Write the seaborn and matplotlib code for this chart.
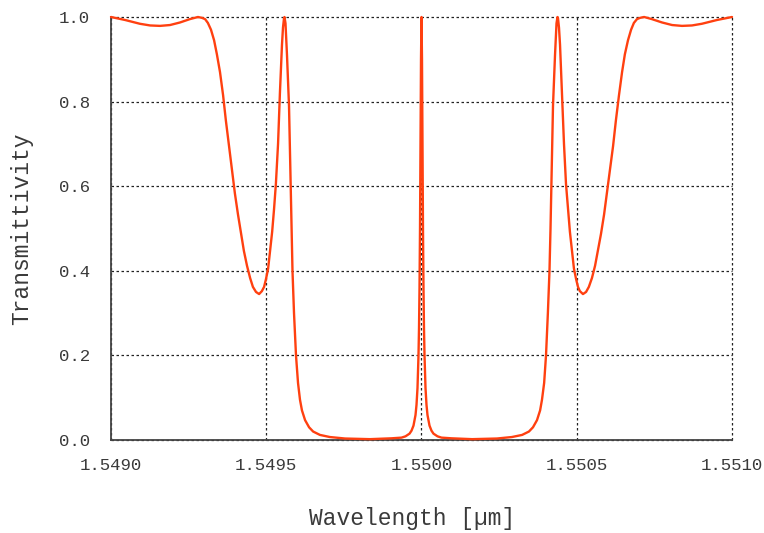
import matplotlib
matplotlib.use("Agg")
import matplotlib.pyplot as plt
import seaborn as sns
import pandas as pd
from matplotlib.ticker import MultipleLocator, FormatStrFormatter

# Data (wavelength in µm, transmittivity 0..1)
wavelength_um = [
    # left pass band and left stop-band edge
    1.549000, 1.549045, 1.549093, 1.549126, 1.549158, 1.549190, 1.549222, 1.549254,
    1.549280, 1.549293, 1.549303, 1.549312, 1.549322, 1.549332, 1.549341, 1.549351,
    1.549361, 1.549370, 1.549380, 1.549390, 1.549399, 1.549409, 1.549419, 1.549428,
    1.549438, 1.549448, 1.549457, 1.549467, 1.549477, 1.549486, 1.549493, 1.549499,
    1.549506, 1.549512, 1.549519, 1.549525, 1.549531, 1.549538, 1.549544, 1.5495507,
    1.5495539, 1.5495572, 1.5495588, 1.5495620, 1.5495668, 1.5495733, 1.5495781,
    1.5495813, 1.5495845, 1.5495894, 1.5495958, 1.5496023, 1.5496087, 1.549615,
    1.549625, 1.549638, 1.549651, 1.549673, 1.549705, 1.549754, 1.549834,
    # central resonance
    1.5499034, 1.5499356, 1.5499485, 1.5499614, 1.5499678, 1.5499742, 1.5499807,
    1.5499839, 1.5499871, 1.5499903, 1.5499920, 1.5499936, 1.5499952, 1.5499968,
    1.5499984, 1.5500000, 1.5500016, 1.5500032, 1.5500048, 1.5500064, 1.5500080,
    1.5500097, 1.5500129, 1.5500161, 1.5500193, 1.5500258, 1.5500322, 1.5500386,
    1.5500515, 1.5500644, 1.5500966,
    # right stop-band edge and right pass band
    1.550163, 1.550243, 1.550291, 1.550324, 1.550346, 1.550359, 1.550372, 1.550382,
    1.550388, 1.550395, 1.550401, 1.550407, 1.5504122, 1.5504155, 1.5504187,
    1.5504235, 1.5504300, 1.5504348, 1.5504380, 1.5504396, 1.5504428, 1.5504461,
    1.5504525, 1.5504589, 1.5504654, 1.550472, 1.550478, 1.550485, 1.550491,
    1.550498, 1.550504, 1.550510, 1.550520, 1.550530, 1.550539, 1.550549, 1.550559,
    1.550568, 1.550578, 1.550588, 1.550597, 1.550607, 1.550617, 1.550626, 1.550636,
    1.550646, 1.550655, 1.550665, 1.550675, 1.550684, 1.550694, 1.550704, 1.550717,
    1.550742, 1.550775, 1.550807, 1.550839, 1.550871, 1.550903, 1.550952, 1.551000,
]
transmittivity = [
    1.000, 0.993, 0.984, 0.980, 0.979, 0.981, 0.987, 0.995,
    1.000, 0.998, 0.995, 0.986, 0.970, 0.945, 0.912, 0.870,
    0.815, 0.755, 0.695, 0.637, 0.583, 0.533, 0.487, 0.447,
    0.412, 0.383, 0.362, 0.350, 0.345, 0.352, 0.362, 0.380,
    0.405, 0.445, 0.492, 0.545, 0.605, 0.700, 0.820, 0.935,
    0.975, 0.997, 1.000, 0.985, 0.910, 0.790, 0.620,
    0.500, 0.400, 0.300, 0.200, 0.135, 0.095, 0.070,
    0.047, 0.030, 0.020, 0.012, 0.007, 0.0035, 0.002,
    0.004, 0.0056, 0.0087, 0.015, 0.022, 0.034, 0.059,
    0.083, 0.123, 0.200, 0.265, 0.360, 0.500, 0.690,
    0.900, 1.000, 0.900, 0.690, 0.500, 0.360, 0.265,
    0.200, 0.123, 0.083, 0.059, 0.034, 0.022, 0.015,
    0.0087, 0.0056, 0.004,
    0.002, 0.0035, 0.007, 0.012, 0.020, 0.030, 0.047, 0.070,
    0.095, 0.135, 0.200, 0.300, 0.400, 0.500, 0.620,
    0.790, 0.910, 0.985, 1.000, 0.997, 0.975, 0.935,
    0.820, 0.700, 0.605, 0.545, 0.492, 0.445, 0.405,
    0.380, 0.362, 0.352, 0.345, 0.350, 0.362, 0.383, 0.412,
    0.447, 0.487, 0.533, 0.583, 0.637, 0.695, 0.755, 0.815,
    0.870, 0.912, 0.945, 0.970, 0.986, 0.995, 0.998, 1.000,
    0.995, 0.987, 0.981, 0.979, 0.980, 0.984, 0.993, 1.000,
]
x_ticks = [1.5490, 1.5495, 1.5500, 1.5505, 1.5510]
y_ticks = [0.0, 0.2, 0.4, 0.6, 0.8, 1.0]
x_label = "Wavelength [µm]"
y_label = "Transmittivity"

assert len(wavelength_um) == len(transmittivity)
df = pd.DataFrame({"wl": wavelength_um, "T": transmittivity})

sns.set_style("white")
plt.rcParams["font.family"] = ["Liberation Mono", "DejaVu Sans Mono"]
text_col = "#3a3a3a"

fig = plt.figure(figsize=(7.64, 5.33), dpi=100)
ax = fig.add_axes([111 / 764, 1 - 440 / 533, 621 / 764, 423 / 533])

sns.lineplot(data=df, x="wl", y="T", ax=ax, color="#ff4010", lw=1.7,
             estimator=None, sort=False, clip_on=False, zorder=3)

ax.set_xlim(1.5490, 1.5510)
ax.set_ylim(0.0, 1.0)
ax.set_xticks(x_ticks)
ax.set_yticks(y_ticks)
ax.xaxis.set_major_formatter(FormatStrFormatter("%.4f"))
ax.yaxis.set_major_formatter(FormatStrFormatter("%.1f"))
ax.xaxis.set_minor_locator(MultipleLocator(0.0001))
ax.yaxis.set_minor_locator(MultipleLocator(0.04))

ax.grid(True, which="major", color="#222222", linestyle=(0, (2, 2)), lw=0.9, zorder=1)
ax.set_axisbelow(True)
for gl in ax.get_xgridlines() + ax.get_ygridlines():
    gl.set_clip_on(False)

for s in ["top", "right"]:
    ax.spines[s].set_visible(False)
for s in ["left", "bottom"]:
    ax.spines[s].set_color("#444444")
    ax.spines[s].set_linewidth(1.3)
    ax.spines[s].set_zorder(2.5)

ax.tick_params(which="major", direction="in", length=8, width=1.1, color="#444444",
               labelsize=12.5, labelcolor=text_col)
ax.tick_params(which="minor", direction="in", length=4.5, width=1.0, color="#555555")
ax.tick_params(axis="x", which="major", pad=13)
ax.tick_params(axis="y", which="major", pad=15)

ax.set_xlabel(x_label, fontsize=16.5, color=text_col)
ax.set_ylabel(y_label, fontsize=16.5, color=text_col)
ax.xaxis.set_label_coords((412 - 111) / 621, (440 - 519) / 423)
ax.yaxis.set_label_coords((22 - 111) / 621, 0.5)
ax.xaxis.label.set_verticalalignment("center")
ax.yaxis.label.set_verticalalignment("center")

fig.savefig("out.png", dpi=100)
